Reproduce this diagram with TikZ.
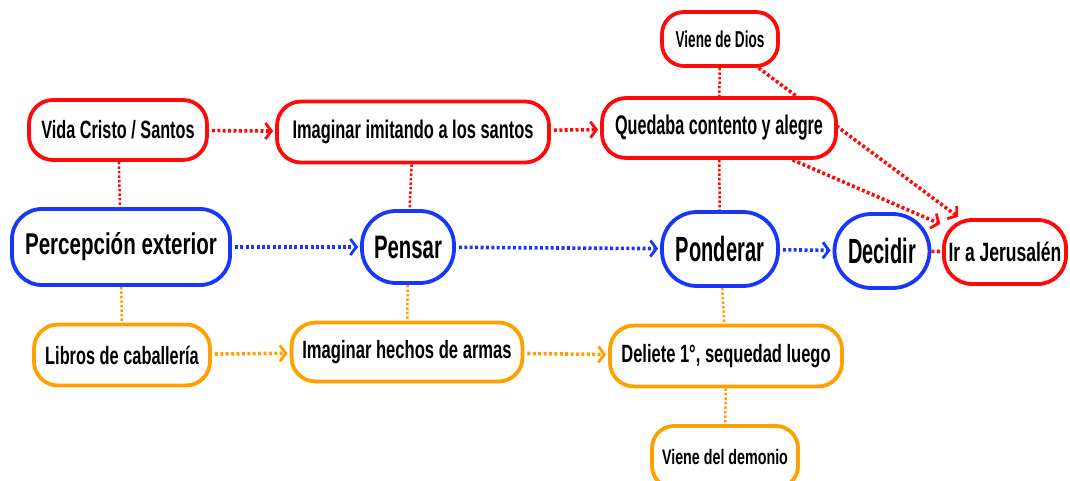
\documentclass[tikz,border=0pt]{standalone}
\usepackage{fontspec}
\setmainfont{Liberation Sans}
\usepackage{graphicx}
\usetikzlibrary{arrows.meta,backgrounds}
\newcommand{\mytxt}[3]{\fontsize{#1}{#1}\selectfont\bfseries\scalebox{#2}[1]{#3}}
\definecolor{myred}{RGB}{255,10,10}
\definecolor{myblue}{RGB}{25,55,250}
\definecolor{myorange}{RGB}{255,160,0}
\tikzset{
  box/.style={draw, line width=3.8pt, fill=white, inner sep=0pt, text=black, rounded corners=24pt},
  redbox/.style={box, draw=myred},
  bluebox/.style={box, draw=myblue},
  orbox/.style={box, draw=myorange},
  arr/.style={line width=3.6pt, dash pattern=on 3pt off 2.4pt, shorten >=2pt, shorten <=3pt,
    -{Straight Barb[length=6pt,width=16pt,line width=2.8pt]}},
  link/.style={line width=2.5pt, dash pattern=on 2.5pt off 2pt},
}
\begin{document}
\begin{tikzpicture}[x=1pt,y=-1pt]
\useasboundingbox (0,0) rectangle (1070,481);
% top row (red)
\node[redbox, minimum width=178pt, minimum height=60pt] (vida) at (118,130) {\mytxt{25}{0.65}{Vida Cristo / Santos}};
\node[redbox, minimum width=272pt, minimum height=61pt] (imit) at (413,132) {\mytxt{25.5}{0.644}{Imaginar imitando a los santos}};
\node[redbox, minimum width=234pt, minimum height=60pt] (qued) at (719,128) {\mytxt{27}{0.6}{Quedaba contento y alegre}};
\node[redbox, minimum width=116pt, minimum height=54pt, rounded corners=22pt] (dios) at (720,39) {\mytxt{23}{0.59}{Viene de Dios}};
% middle row (blue)
\node[bluebox, minimum width=218pt, minimum height=76pt, rounded corners=30pt] (perc) at (121,247) {\mytxt{30}{0.685}{Percepción exterior}};
\node[bluebox, minimum width=92pt, minimum height=72pt, rounded corners=34pt] (pens) at (408,247) {\mytxt{32.5}{0.627}{Pensar}};
\node[bluebox, minimum width=116pt, minimum height=74pt, rounded corners=35pt] (pond) at (720,249) {\mytxt{35}{0.573}{Ponderar}};
\node[bluebox, minimum width=95pt, minimum height=74pt, rounded corners=37pt] (deci) at (882,251) {\mytxt{35}{0.571}{Decidir}};
\node[redbox, minimum width=122pt, minimum height=64pt, rounded corners=28pt] (jer) at (1005,252) {\mytxt{26.5}{0.66}{Ir a Jerusalén}};
% bottom row (orange)
\node[orbox, minimum width=176pt, minimum height=61pt] (libr) at (122,355) {\mytxt{25}{0.654}{Libros de caballería}};
\node[orbox, minimum width=231pt, minimum height=59pt] (hech) at (407,352) {\mytxt{25}{0.664}{Imaginar hechos de armas}};
\node[orbox, minimum width=232pt, minimum height=61pt] (deli) at (726,356) {\mytxt{25}{0.66}{Deliete 1°, sequedad luego}};
\node[orbox, minimum width=146pt, minimum height=62pt, rounded corners=22pt] (demo) at (725,457) {\mytxt{21}{0.68}{Viene del demonio}};
% connectors behind the boxes
\begin{scope}[on background layer]
\draw[link, myred] (vida) -- (perc);
\draw[link, myred] (imit) -- (pens);
\draw[link, myred] (qued) -- (pond);
\draw[link, myred] (dios) -- (qued);
\draw[link, myorange] (perc) -- (libr);
\draw[link, myorange] (pens) -- (hech);
\draw[link, myorange] (pond) -- (deli);
\draw[link, myorange] (deli) -- (demo);
\draw[arr, myred, shorten <=0pt] (dios) -- (jer);
\draw[arr, myred, shorten <=0pt] (qued) -- (jer);
\end{scope}
% arrows
\draw[arr, myred] (vida) -- (imit);
\draw[arr, myred] (imit) -- (qued);
\draw[arr, myblue] (perc) -- (pens);
\draw[arr, myblue] (pens) -- (pond);
\draw[arr, myblue] (pond) -- (deci);
\draw[link, myred, line width=3.6pt, dash pattern=on 3pt off 2.4pt] (deci) -- (jer);
\draw[arr, myorange] (libr) -- (hech);
\draw[arr, myorange] (hech) -- (deli);
\end{tikzpicture}
\end{document}
